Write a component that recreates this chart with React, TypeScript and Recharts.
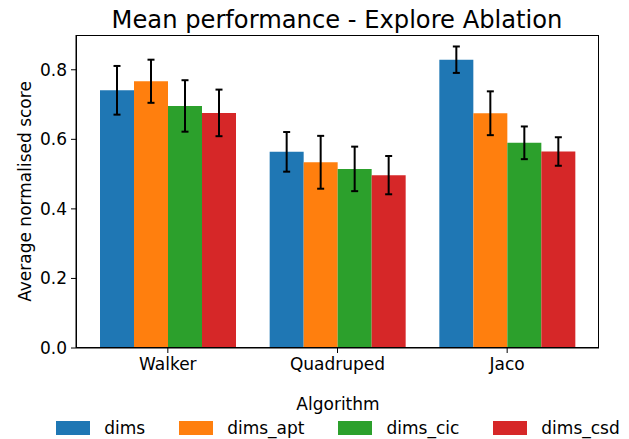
import React from "react";
import { BarChart, Bar, XAxis, YAxis, ErrorBar } from "recharts";

const categories = ["Walker", "Quadruped", "Jaco"];
const seriesNames = ["dims", "dims_apt", "dims_cic", "dims_csd"];
const colors = ["#1f77b4", "#ff7f0e", "#2ca02c", "#d62728"];

const dims = [0.741, 0.564, 0.829];
const dimsApt = [0.767, 0.534, 0.675];
const dimsCic = [0.696, 0.515, 0.59];
const dimsCsd = [0.676, 0.497, 0.565];

const dimsErr = [0.07, 0.057, 0.038];
const dimsAptErr = [0.062, 0.076, 0.063];
const dimsCicErr = [0.074, 0.064, 0.047];
const dimsCsdErr = [0.067, 0.055, 0.041];

const yTicks = [0, 0.2, 0.4, 0.6, 0.8];

const values = [dims, dimsApt, dimsCic, dimsCsd];
const errors = [dimsErr, dimsAptErr, dimsCicErr, dimsCsdErr];

const data = categories.map((c, i) => {
  const row: Record<string, any> = { name: c };
  seriesNames.forEach((s, k) => {
    row[s] = values[k][i];
    row[s + "_err"] = errors[k][i];
  });
  return row;
});

const FONT = "'DejaVu Sans', sans-serif";

export default function App() {
  return (
    <div
      style={{
        position: "absolute",
        left: 0,
        top: 0,
        width: 629,
        height: 439,
        background: "#fff",
        fontFamily: FONT,
      }}
    >
      <div
        style={{
          position: "absolute",
          left: 0,
          width: 674,
          top: 5,
          textAlign: "center",
          fontSize: 24.2,
          lineHeight: "30px",
          color: "#000",
          whiteSpace: "nowrap",
        }}
      >
        Mean performance - Explore Ablation
      </div>
      <BarChart
        width={629}
        height={439}
        data={data}
        margin={{ top: 35, right: 30, left: 0, bottom: 0 }}
        barCategoryGap={17}
        barGap={0}
      >
        <XAxis
          dataKey="name"
          height={91}
          padding={{ left: 7, right: 7 }}
          tickLine={{ stroke: "#000" }}
          axisLine={{ stroke: "#000" }}
          tickSize={5}
          tickMargin={5}
          tick={{ fill: "#000", fontSize: 17, fontFamily: FONT }}
        />
        <YAxis
          width={76}
          domain={[0, 0.9]}
          ticks={yTicks}
          tickFormatter={(v: number) => v.toFixed(1)}
          tickLine={{ stroke: "#000" }}
          axisLine={{ stroke: "#000" }}
          tickSize={5}
          tickMargin={4}
          tick={{ fill: "#000", fontSize: 17, fontFamily: FONT }}
          label={{
            content: () => (
              <text
                x={25}
                y={191.5}
                transform="rotate(-90 25 191.5)"
                textAnchor="middle"
                dominantBaseline="central"
                fontSize={17}
                fontFamily={FONT}
                fill="#000"
              >
                Average normalised score
              </text>
            ),
          }}
        />
        {seriesNames.map((s, k) => (
          <Bar key={s} dataKey={s} fill={colors[k]} isAnimationActive={false}>
            <ErrorBar
              dataKey={s + "_err"}
              width={3.5}
              stroke="#000"
              strokeWidth={2}
              direction="y"
            />
          </Bar>
        ))}
      </BarChart>
      <div
        style={{
          position: "absolute",
          left: 76,
          top: 35,
          width: 523,
          height: 313,
          border: "1px solid #000",
          boxSizing: "border-box",
          pointerEvents: "none",
        }}
      />
      <div
        style={{
          position: "absolute",
          left: 0,
          width: 676,
          top: 393,
          textAlign: "center",
          fontSize: 17,
          lineHeight: "22px",
          color: "#000",
        }}
      >
        Algorithm
      </div>
      <div
        style={{
          position: "absolute",
          left: 0,
          width: 676,
          top: 417,
          display: "flex",
          justifyContent: "center",
          gap: 34,
          fontSize: 17,
          lineHeight: "22px",
          color: "#000",
        }}
      >
        {seriesNames.map((s, k) => (
          <div key={s} style={{ display: "flex", alignItems: "center" }}>
            <div
              style={{
                width: 34,
                height: 14,
                background: colors[k],
                marginRight: 14,
              }}
            />
            <span>{s}</span>
          </div>
        ))}
      </div>
    </div>
  );
}
